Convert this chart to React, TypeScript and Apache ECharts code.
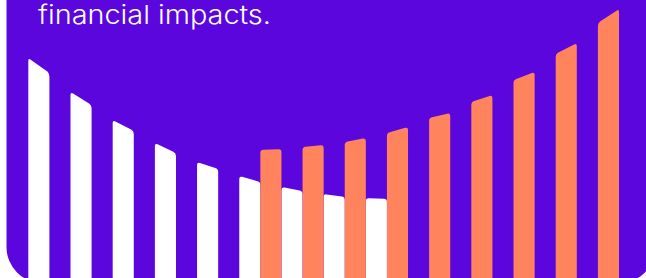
import React, { useEffect, useRef } from "react";
import * as echarts from "echarts";

const categories = ["1", "2", "3", "4", "5", "6", "7", "8", "9", "10", "11", "12", "13", "14"];
// White (declining) series: top-left and top-right heights
const whiteStart = 0;
const whiteLeft = [220, 186, 158, 135, 116, 102, 91, 84, 80];
const whiteRight = [205, 173, 147, 125, 109, 96, 87, 81, 79];
// Orange (rising) series: top-left and top-right heights
const orangeStart = 5;
const orangeLeft = [128, 131, 136, 145, 160, 176, 198, 224, 255];
const orangeRight = [129, 133, 140, 151, 165, 183, 206, 235, 269];

const title = "financial impacts.";

const PURPLE = "#5B06DC";
const ORANGE = "#FF845E";
const WHITE = "#FFFFFF";

function buildData(start: number, left: number[], right: number[]) {
  return left.map((v, i) => [start + i, v, right[i]]);
}

function makeRender(side: "left" | "right", color: string) {
  return (params: any, api: any) => {
    const idx = api.value(0);
    const lv = api.value(1);
    const rv = api.value(2);
    const catW = api.size([1, 0])[0];
    const c0 = api.coord([idx, 0]);
    const pL = api.coord([idx, lv]);
    const pR = api.coord([idx, rv]);
    const xL = side === "left" ? c0[0] - catW / 2 : c0[0];
    const xR = side === "left" ? c0[0] : c0[0] + catW / 2;
    const yL = pL[1];
    const yR = pR[1];
    const yB = c0[1] + 10;
    const r = 3;
    const dx = xR - xL;
    const dy = yR - yL;
    const len = Math.sqrt(dx * dx + dy * dy);
    const ux = dx / len;
    const uy = dy / len;
    const d = [
      `M ${xL} ${yB}`,
      `L ${xL} ${yL + r}`,
      `Q ${xL} ${yL} ${xL + r * ux} ${yL + r * uy}`,
      `L ${xR - r * ux} ${yR - r * uy}`,
      `Q ${xR} ${yR} ${xR} ${yR + r}`,
      `L ${xR} ${yB}`,
      "Z",
    ].join(" ");
    return {
      type: "path",
      shape: { pathData: d },
      style: { fill: color },
    };
  };
}

export default function App() {
  const ref = useRef<HTMLDivElement>(null);
  useEffect(() => {
    if (!ref.current) return;
    const chart = echarts.init(ref.current, null, { renderer: "svg" });
    chart.setOption({
      animation: false,
      backgroundColor: "#ffffff",
      grid: { left: 28.3, right: 27, top: 0, bottom: 0 },
      xAxis: {
        type: "category",
        data: categories,
        boundaryGap: true,
        show: false,
      },
      yAxis: { type: "value", min: 0, max: 278, show: false },
      graphic: [
        {
          type: "rect",
          z: -10,
          silent: true,
          shape: { x: 6.5, y: -60, width: 649, height: 343, r: 36 },
          style: { fill: PURPLE },
        },
        {
          type: "text",
          z: 10,
          x: 38,
          y: 28,
          scaleX: 1.11,
          style: {
            text: title,
            fill: WHITE,
            font: "300 26px Inter",
            verticalAlign: "bottom",
            textAlign: "left",
          },
        },
      ],
      series: [
        {
          type: "custom",
          name: "white",
          renderItem: makeRender("left", WHITE),
          data: buildData(whiteStart, whiteLeft, whiteRight),
          encode: { x: 0, y: [1, 2] },
          clip: false,
        },
        {
          type: "custom",
          name: "orange",
          renderItem: makeRender("right", ORANGE),
          data: buildData(orangeStart, orangeLeft, orangeRight),
          encode: { x: 0, y: [1, 2] },
          clip: false,
        },
      ],
    });
    return () => chart.dispose();
  }, []);
  return (
    <div
      ref={ref}
      style={{ position: "fixed", left: 0, top: 0, width: 646, height: 278 }}
    />
  );
}
